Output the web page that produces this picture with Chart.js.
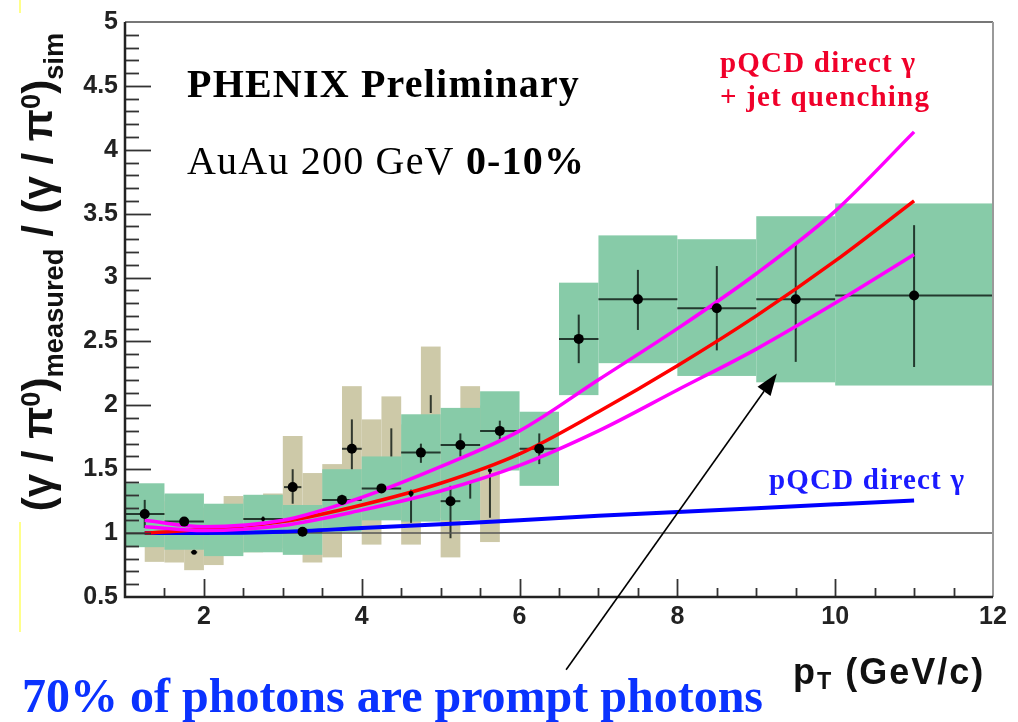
<!DOCTYPE html>
<html>
<head>
<meta charset="utf-8">
<script src="https://cdn.jsdelivr.net/npm/chart.js@4/dist/chart.umd.min.js"></script>
<style>
  body { margin: 0; background: #fff; }
  #wrap { position: relative; width: 1018px; height: 722px; overflow: hidden; }
  #wrap div { position: absolute; white-space: nowrap; line-height: 1; }
  .serif { font-family: 'Liberation Serif', 'Times New Roman', serif; font-weight: bold; }
  .sans { font-family: 'Liberation Sans', Arial, sans-serif; font-weight: bold; color: #111; }
  .sub { font-size: 0.65em; vertical-align: -0.4em; line-height: 0; }
  .sup { font-size: 0.65em; vertical-align: 0.45em; line-height: 0; }
</style>
</head>
<body>
<div id="wrap">
  <canvas id="ratioChart" width="1018" height="722"></canvas>

  <div class="serif" style="left:187px; top:64px; font-size:40px; letter-spacing:1.2px; color:#000;">PHENIX Preliminary</div>
  <div class="serif" style="left:187px; top:141px; font-size:40px; letter-spacing:1.2px; color:#000;"><span style="font-weight:normal">AuAu 200 GeV</span> 0-10%</div>
  <div class="serif" style="left:720px; top:48px; font-size:29px; letter-spacing:1.2px; color:#f0002a;">pQCD direct γ</div>
  <div class="serif" style="left:720px; top:82px; font-size:29px; letter-spacing:1.2px; color:#f0002a;">+ jet quenching</div>
  <div class="serif" style="left:769px; top:465px; font-size:29px; letter-spacing:1.2px; color:#1a1aff;">pQCD direct γ</div>
  <div class="serif" style="left:22px; top:672px; font-size:48px; color:#0a32ff;">70% of photons are prompt photons</div>

  <!-- titres des axes -->
  <div class="sans" style="left:793px; top:654px; font-size:36px; letter-spacing:2px;">p<span class="sub" style="vertical-align:-0.22em">T</span> (GeV/c)</div>
  <div class="sans" style="left:38px; top:272px; font-size:42px; line-height:42px; transform: translate(-50%, -50%) rotate(-90deg);">(γ / π<span class="sup">0</span>)<span class="sub">measured</span> / (γ / π<span class="sup">0</span>)<span class="sub">sim</span></div>

  <!-- petit trait jaune du scan -->
  <div style="left:19px; top:0px; width:2px; height:13px; background:#ffff8a;"></div>
  <div style="left:19px; top:522px; width:2px; height:110px; background:#ffff8a;"></div>
</div>

<script>
// Axes
const xTicks = [2, 4, 6, 8, 10, 12];
const yTicks = [0.5, 1, 1.5, 2, 2.5, 3, 3.5, 4, 4.5, 5];

// Données principales (points noirs, systématiques vertes)
const greenBinLo = [1, 1.5, 2, 2.5, 3, 3.5, 4, 4.5, 5, 5.5, 6, 6.5, 7, 8, 9, 10];
const greenBinHi = [1.5, 2, 2.5, 3, 3.5, 4, 4.5, 5, 5.5, 6, 6.5, 7, 8, 9, 10, 12];
const greenX = [1.25, 1.75, 2.25, 2.75, 3.25, 3.75, 4.25, 4.75, 5.25, 5.75, 6.25, 6.75, 7.5, 8.5, 9.5, 11];
const greenY = [1.15, 1.09, 1.04, 1.11, 1.01, 1.26, 1.35, 1.63, 1.69, 1.80, 1.66, 2.52, 2.83, 2.76, 2.83, 2.86];
const greenStatLo = [1.04, 1.06, 1.02, 1.09, 0.99, 1.22, 1.32, 1.55, 1.60, 1.72, 1.54, 2.33, 2.59, 2.43, 2.34, 2.30];
const greenStatHi = [1.26, 1.12, 1.06, 1.13, 1.03, 1.30, 1.38, 1.70, 1.78, 1.88, 1.78, 2.71, 3.06, 3.09, 3.27, 3.41];
const greenSysLo = [0.89, 0.87, 0.82, 0.85, 0.83, 1.01, 1.10, 1.09, 1.10, 1.49, 1.37, 2.08, 2.33, 2.23, 2.18, 2.155];
const greenSysHi = [1.39, 1.31, 1.23, 1.30, 1.22, 1.50, 1.60, 1.93, 1.98, 2.11, 1.95, 2.96, 3.33, 3.30, 3.48, 3.58];

// Deuxième analyse (systématiques beiges, bins de 0.25)
const tanBinLo = [1.25, 1.5, 1.75, 2, 2.25, 2.5, 2.75, 3, 3.25, 3.5, 3.75, 4, 4.25, 4.5, 4.75, 5, 5.25, 5.5];
const tanBinHi = [1.5, 1.75, 2, 2.25, 2.5, 2.75, 3, 3.25, 3.5, 3.75, 4, 4.25, 4.5, 4.75, 5, 5.25, 5.5, 5.75];
const tanSysLo = [0.775, 0.77, 0.71, 0.75, 0.845, 0.85, 0.88, 0.845, 0.77, 0.81, 1.02, 0.91, 1.12, 0.91, 1.12, 0.81, 1.12, 0.93];
const tanSysHi = [1.30, 1.25, 1.20, 1.20, 1.29, 1.27, 1.31, 1.76, 1.47, 1.54, 2.15, 1.89, 2.07, 1.85, 2.46, 1.90, 2.15, 2.00];
const tanX = [1.875, 3.125, 3.875, 4.375, 4.625, 4.875, 5.125, 5.375, 5.625];
const tanY = [0.85, 1.36, 1.66, 1.71, 1.31, 2.01, 1.25, 1.33, 1.49];
const tanStatLo = [0.85, 1.23, 1.50, 1.60, 1.08, 1.94, 0.96, 1.27, 1.12];
const tanStatHi = [0.85, 1.50, 1.89, 1.82, 1.34, 2.08, 1.37, 1.40, 1.50];
const tanXErr = [0.04, 0.11, 0.125, 0, 0, 0, 0.125, 0, 0];

// Courbes théoriques
const curveX = [1.25, 2, 3, 4, 5, 6, 7, 8, 9, 10, 11];
const directY = [1.0, 1.0, 1.01, 1.04, 1.07, 1.10, 1.135, 1.165, 1.195, 1.225, 1.255];
const quenchY = [1.0, 1.03, 1.09, 1.22, 1.39, 1.62, 1.95, 2.31, 2.70, 3.13, 3.60];
const quenchUpY = [1.10, 1.05, 1.10, 1.28, 1.52, 1.80, 2.20, 2.60, 3.03, 3.52, 4.14];
const quenchLoY = [1.05, 1.02, 1.06, 1.18, 1.33, 1.53, 1.80, 2.12, 2.44, 2.80, 3.18];

// Flèche (coordonnées des données)
const arrowFrom = { x: 6.59, y: -0.07 };
const arrowTo = { x: 9.26, y: 2.25 };

const pts = (xs, ys) => xs.map((x, i) => ({ x: x, y: ys[i] }));

// Boîtes systématiques + barres d'erreur, cadre et graduations
const phenixDecor = {
    id: 'phenixDecor',
    beforeDatasetsDraw(chart) {
        const { ctx, chartArea: a, scales: { x, y } } = chart;
        ctx.save();
        ctx.beginPath();
        ctx.rect(a.left, a.top, a.right - a.left, a.bottom - a.top);
        ctx.clip();

        const box = (x0, x1, y0, y1, color) => {
            const px0 = x.getPixelForValue(x0), px1 = x.getPixelForValue(x1);
            const py0 = y.getPixelForValue(y0), py1 = y.getPixelForValue(y1);
            ctx.fillStyle = color;
            ctx.fillRect(px0, py1, px1 - px0, py0 - py1);
        };
        tanBinLo.forEach((lo, i) => box(lo, tanBinHi[i], tanSysLo[i], tanSysHi[i], '#cdc9a8'));
        greenBinLo.forEach((lo, i) => box(lo, greenBinHi[i], greenSysLo[i], greenSysHi[i], '#87cba8'));

        ctx.strokeStyle = 'rgba(10, 20, 15, 0.8)';
        ctx.lineWidth = 2;
        const seg = (x0, y0, x1, y1) => {
            ctx.beginPath();
            ctx.moveTo(x.getPixelForValue(x0), y.getPixelForValue(y0));
            ctx.lineTo(x.getPixelForValue(x1), y.getPixelForValue(y1));
            ctx.stroke();
        };
        greenX.forEach((gx, i) => {
            seg(greenBinLo[i], greenY[i], greenBinHi[i], greenY[i]);
            seg(gx, greenStatLo[i], gx, greenStatHi[i]);
        });
        tanX.forEach((tx, i) => {
            if (tanXErr[i] > 0) seg(tx - tanXErr[i], tanY[i], tx + tanXErr[i], tanY[i]);
            if (tanStatHi[i] > tanStatLo[i]) seg(tx, tanStatLo[i], tx, tanStatHi[i]);
        });
        ctx.restore();
    },
    afterDraw(chart) {
        const { ctx, chartArea: a, scales: { x, y } } = chart;
        ctx.save();
        // graduations
        ctx.strokeStyle = '#333';
        ctx.lineWidth = 1.8;
        for (let i = 6; i < 50; i++) {
            const py = Math.round(y.getPixelForValue(i / 10)) + 0.5;
            const len = i % 5 === 0 ? 26 : 14;
            ctx.beginPath();
            ctx.moveTo(a.left, py);
            ctx.lineTo(a.left + len, py);
            ctx.stroke();
        }
        for (let i = 3; i < 24; i++) {
            const px = Math.round(x.getPixelForValue(i / 2)) + 0.5;
            const len = i % 4 === 0 ? 18 : 9;
            ctx.beginPath();
            ctx.moveTo(px, a.bottom);
            ctx.lineTo(px, a.bottom - len);
            ctx.stroke();
        }
        // cadre
        ctx.lineWidth = 2;
        ctx.strokeStyle = '#777';
        ctx.beginPath();
        ctx.moveTo(a.left, a.top);
        ctx.lineTo(a.right, a.top);
        ctx.stroke();
        ctx.strokeStyle = '#9a9a9a';
        ctx.beginPath();
        ctx.moveTo(a.right, a.top);
        ctx.lineTo(a.right, a.bottom);
        ctx.stroke();
        ctx.strokeStyle = '#222';
        ctx.lineWidth = 2.5;
        ctx.beginPath();
        ctx.moveTo(a.left, a.top);
        ctx.lineTo(a.left, a.bottom);
        ctx.lineTo(a.right, a.bottom);
        ctx.stroke();

        // flèche
        const x0 = x.getPixelForValue(arrowFrom.x), y0 = y.getPixelForValue(arrowFrom.y);
        const x1 = x.getPixelForValue(arrowTo.x), y1 = y.getPixelForValue(arrowTo.y);
        const ang = Math.atan2(y1 - y0, x1 - x0);
        const head = 22, half = 8;
        const bx = x1 - head * Math.cos(ang), by = y1 - head * Math.sin(ang);
        ctx.strokeStyle = '#000';
        ctx.fillStyle = '#000';
        ctx.lineWidth = 1.6;
        ctx.beginPath();
        ctx.moveTo(x0, y0);
        ctx.lineTo(bx, by);
        ctx.stroke();
        ctx.beginPath();
        ctx.moveTo(x1, y1);
        ctx.lineTo(bx + half * Math.sin(ang), by - half * Math.cos(ang));
        ctx.lineTo(bx - half * Math.sin(ang), by + half * Math.cos(ang));
        ctx.closePath();
        ctx.fill();
        ctx.restore();
    }
};

const tickFont = { family: "'Liberation Sans', Arial, sans-serif", weight: 'bold', size: 25 };
const curve = (data, color, width) => ({
    data: data,
    showLine: true,
    borderColor: color,
    borderWidth: width,
    pointRadius: 0,
    cubicInterpolationMode: 'monotone',
    fill: false
});

new Chart(document.getElementById('ratioChart'), {
    type: 'scatter',
    data: {
        datasets: [
            { data: pts(greenX, greenY), pointRadius: [5, 5, 0, 2, 5, 5, 5, 5, 5, 5, 5, 5, 5, 5, 5, 5], backgroundColor: '#000', borderColor: '#000', borderWidth: 0 },
            { data: pts(tanX, tanY), pointRadius: [2.5, 5, 5, 0, 2.5, 0, 5, 0, 2], backgroundColor: '#000', borderColor: '#000', borderWidth: 0 },
            curve(pts(curveX, quenchUpY), '#ff00ff', 3.5),
            curve(pts(curveX, quenchLoY), '#ff00ff', 3.5),
            curve(pts(curveX, quenchY), '#ff0000', 3.5),
            curve(pts(curveX, directY), '#0000ff', 4),
            curve(pts([1, 12], [1, 1]), '#555', 1.5)
        ]
    },
    options: {
        responsive: false,
        animation: false,
        devicePixelRatio: 1,
        layout: { padding: { left: 0, right: 25, top: 17, bottom: 0 } },
        plugins: { legend: { display: false }, tooltip: { enabled: false } },
        scales: {
            x: {
                type: 'linear', min: 1, max: 12,
                afterBuildTicks: s => { s.ticks = xTicks.map(v => ({ value: v })); },
                afterFit: s => { s.height = 125; },
                grid: { display: false, drawTicks: false },
                border: { display: false },
                ticks: { font: tickFont, color: '#222', padding: 5, maxRotation: 0, autoSkip: false, callback: v => String(v) }
            },
            y: {
                type: 'linear', min: 0.5, max: 5,
                afterBuildTicks: s => { s.ticks = yTicks.map(v => ({ value: v })); },
                afterFit: s => { s.width = 125; },
                grid: { display: false, drawTicks: false },
                border: { display: false },
                ticks: { font: tickFont, color: '#222', padding: 7, autoSkip: false, callback: v => String(v) }
            }
        }
    },
    plugins: [phenixDecor]
});
</script>
</body>
</html>
